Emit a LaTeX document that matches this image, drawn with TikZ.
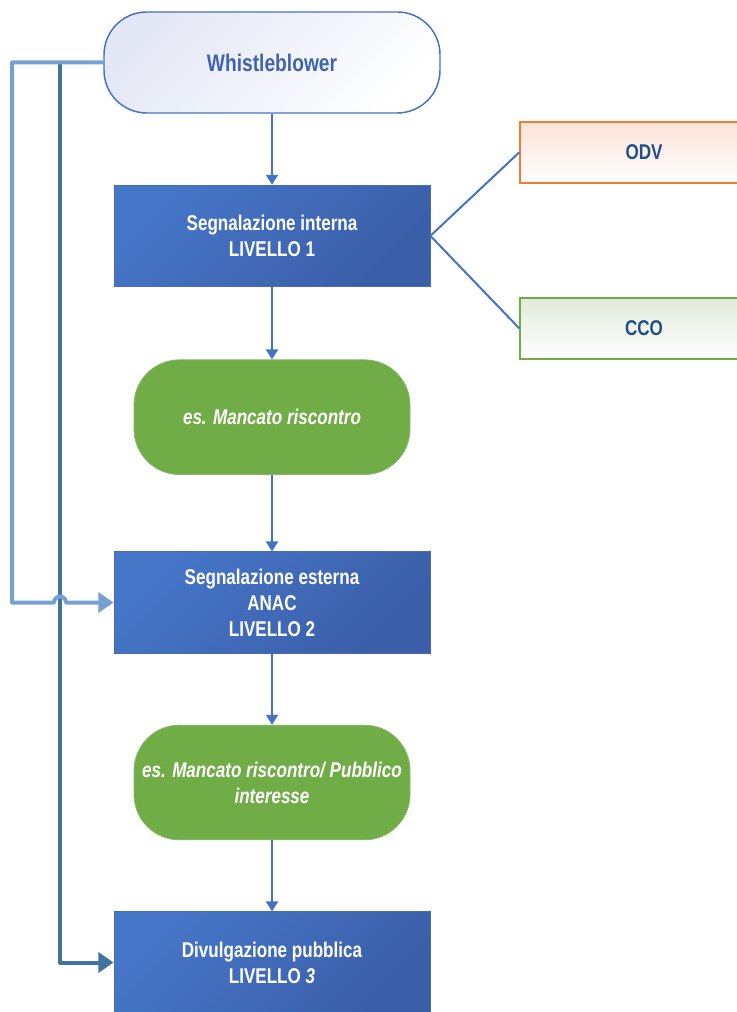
\documentclass[tikz,border=0pt]{standalone}
\usepackage{fontspec}
\setmainfont[FakeStretch=0.8]{Liberation Sans}
\usetikzlibrary{arrows.meta, positioning}

\definecolor{flowblue}{HTML}{4472C4}
\definecolor{levtop}{HTML}{4676C8}
\definecolor{levbot}{HTML}{3B5EA8}
\definecolor{levline}{HTML}{4A6AAE}
\definecolor{wbfill}{HTML}{E4E7F5}
\definecolor{wbtext}{HTML}{3F63AE}
\definecolor{stepgreen}{HTML}{70AD47}
\definecolor{stepline}{HTML}{8DB672}
\definecolor{odvline}{HTML}{ED7D31}
\definecolor{odvfill}{HTML}{FCE2D8}
\definecolor{ccofill}{HTML}{E1EBDA}
\definecolor{orgtext}{HTML}{1F4E8C}
\definecolor{lightpath}{HTML}{74A1D0}
\definecolor{darkpath}{HTML}{44729F}

\tikzset{
  txt/.style = {font=\bfseries\fontsize{16}{19.5}\selectfont, align=center},
  source/.style = {txt, draw=flowblue, line width=1.1pt, rounded corners=32pt,
    top color=wbfill, bottom color=white, shading angle=45, text=wbtext,
    minimum width=252pt, minimum height=75.75pt, font=\bfseries\fontsize{18}{21}\selectfont},
  levelbox/.style = {txt, draw=levline, line width=0.6pt, top color=levtop,
    bottom color=levbot, shading angle=45, text=white,
    minimum width=237pt, minimum height=76pt},
  outcome/.style = {txt, draw=stepline, line width=0.6pt, fill=stepgreen,
    rounded corners=34pt, text=white, minimum width=207pt, minimum height=86pt,
    font=\bfseries\itshape\fontsize{16}{19.5}\selectfont},
  organ/.style = {txt, line width=1.1pt, text=orgtext, shading angle=45,
    bottom color=white, minimum width=186pt, minimum height=45.75pt},
  flow/.style = {draw=flowblue, line width=1.5pt, -{Triangle[length=7.5pt, width=9pt]}},
  link/.style = {draw=flowblue, line width=1.5pt},
  bypass/.style = {line width=3pt, line join=round, -{Triangle[length=11.5pt, width=15pt]}}
}

\begin{document}
\begin{tikzpicture}[x=0.75pt, y=-0.75pt, node distance=135pt, on grid]
  \useasboundingbox (0,0) rectangle (737,1012);
  \clip (0,0) rectangle (737,1012);

  \node[source] (wb) at (272,62.5) {Whistleblower};
  \node[levelbox] (si) [below=130pt of wb] {Segnalazione interna\\LIVELLO 1};
  \node[outcome] (g1) [below=136pt of si] {es. Mancato riscontro};
  \node[levelbox] (se) [below=139pt of g1] {Segnalazione esterna\\ANAC\\LIVELLO 2};
  \node[outcome] (g2) [below=of se] {es. Mancato riscontro/ Pubblico\\interesse};
  \node[levelbox] (dv) [below=of g2] {Divulgazione pubblica\\LIVELLO \textit{3}};

  \node[organ, draw=odvline, top color=odvfill] (odv) [above right=62.6pt and 279pt of si] {ODV};
  \node[organ, draw=stepgreen, top color=ccofill] (cco) [below right=69.4pt and 279pt of si] {CCO};

  \draw[flow] (wb) -- (si);
  \draw[flow] (si) -- (g1);
  \draw[flow] (g1) -- (se);
  \draw[flow] (se) -- (g2);
  \draw[flow] (g2) -- (dv);
  \draw[link] (si.east) -- (odv.west);
  \draw[link] (si.east) -- (cco.west);

  % bypass lines on the left
  \coordinate (lx) at (12,0);
  \coordinate (dx) at (60,0);
  \coordinate (hop) at (se.west -| dx);
  \draw[bypass, darkpath] (wb.west -| dx) |- (dv.west);
  \draw[bypass, lightpath] (wb.west) -- (wb.west -| lx) |- ([xshift=-4.5pt]hop)
    arc[start angle=180, end angle=360, radius=6] -- (se.west);
\end{tikzpicture}
\end{document}
